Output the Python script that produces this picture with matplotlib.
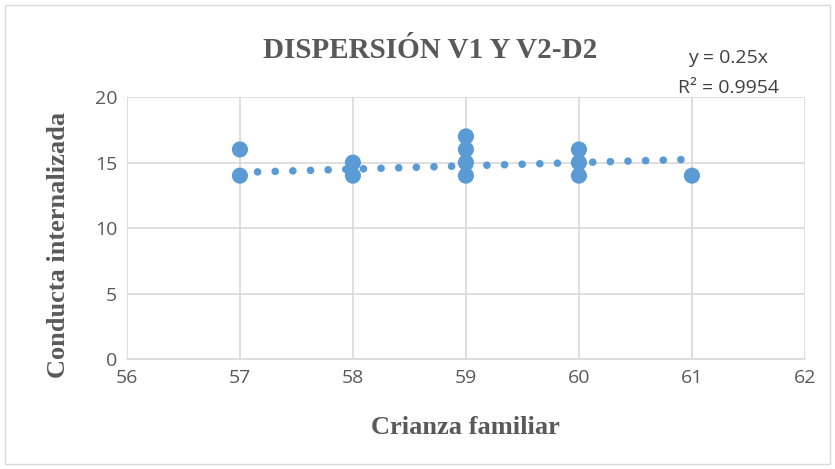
import matplotlib.pyplot as plt
from matplotlib.patches import Rectangle
import numpy as np

x_vals = [57, 57, 58, 58, 59, 59, 59, 59, 60, 60, 60, 61]
y_vals = [16, 14, 15, 14, 17, 16, 15, 14, 16, 15, 14, 14]
slope = 0.25
x_ticks = [56, 57, 58, 59, 60, 61, 62]
y_ticks = [0, 5, 10, 15, 20]

blue = '#5B9BD5'
serif = ['Liberation Serif', 'DejaVu Serif']
sans = ['Open Sans', 'Liberation Sans', 'DejaVu Sans']

fig = plt.figure(figsize=(8.35, 4.69), dpi=100)
ax = fig.add_axes([0.152, 0.2345, 0.812, 0.5585])

# dotted trend line
tx = np.array([57, 61])
ax.plot(tx, slope * tx, color=blue, linewidth=5.5, linestyle=(0, (0.01, 2.3)),
        dash_capstyle='round', zorder=2)
ax.scatter(x_vals, y_vals, s=135, color=blue, zorder=3, edgecolors='none')

ax.set_xlim(56, 62)
ax.set_ylim(0, 20)
ax.set_xticks(x_ticks)
ax.set_yticks(y_ticks)
ax.grid(True, color='#D9D9D9', linewidth=1.2)
ax.set_axisbelow(True)
for s in ['top', 'right', 'left']:
    ax.spines[s].set_visible(False)
ax.spines['bottom'].set_color('#D9D9D9')
ax.spines['bottom'].set_linewidth(1.2)
ax.tick_params(length=0, pad=7, labelsize=14, labelcolor='#595959')
for lab in ax.get_xticklabels() + ax.get_yticklabels():
    lab.set_family(sans)

ax.set_xlabel('Crianza familiar', family=serif, fontsize=19, fontweight='bold',
              color='#595959', labelpad=21)
ax.set_ylabel('Conducta internalizada', family=serif, fontsize=19, fontweight='bold',
              color='#595959')
ax.yaxis.set_label_coords(-0.084, 0.435)

fig.text(0.515, 0.893, 'DISPERSIÓN V1 Y V2-D2', family=serif, fontsize=21,
         fontweight='bold', color='#595959', ha='center', va='center')
fig.text(0.872, 0.876, 'y = 0.25x', family=sans, fontsize=14, color='#404040',
         ha='center', va='center')
fig.text(0.872, 0.812, 'R² = 0.9954', family=sans, fontsize=14, color='#404040',
         ha='center', va='center')

fig.patches.append(Rectangle((0.006, 0.01), 0.988, 0.98, transform=fig.transFigure,
                             fill=False, edgecolor='#D9D9D9', linewidth=1))

fig.savefig('out.png', dpi=100)
